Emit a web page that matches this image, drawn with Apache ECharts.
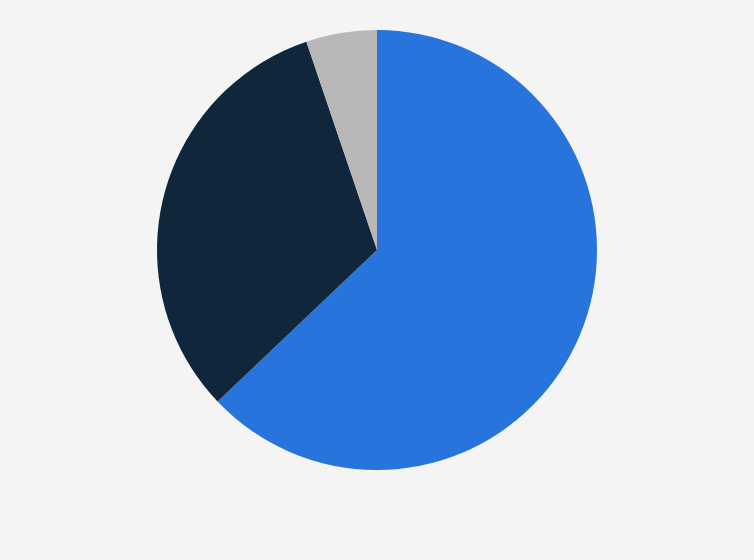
<!DOCTYPE html>
<html>
<head>
<meta charset="utf-8">
<script src="https://cdn.jsdelivr.net/npm/echarts@6/dist/echarts.min.js"></script>
<style>
  html, body { margin: 0; padding: 0; background: #f4f4f4; }
  #main { width: 754px; height: 560px; }
</style>
</head>
<body>
<div id="main"></div>
<script>
var categories = ['A', 'B', 'C'];
var values = [62.9, 31.9, 5.2];
var colors = ['#2775dc', '#0f263b', '#b8b8b8'];

var pieData = [];
for (var i = 0; i < categories.length; i++) {
  pieData.push({ name: categories[i], value: values[i] });
}

var myChart = echarts.init(document.getElementById('main'));
var option = {
  backgroundColor: '#f4f4f4',
  color: colors,
  animation: false,
  series: [
    {
      type: 'pie',
      center: [377, 250],
      radius: [0, 220],
      startAngle: 90,
      clockwise: true,
      label: { show: false },
      labelLine: { show: false },
      itemStyle: { borderWidth: 0 },
      emphasis: { disabled: true },
      data: pieData
    }
  ]
};
myChart.setOption(option);
</script>
</body>
</html>
